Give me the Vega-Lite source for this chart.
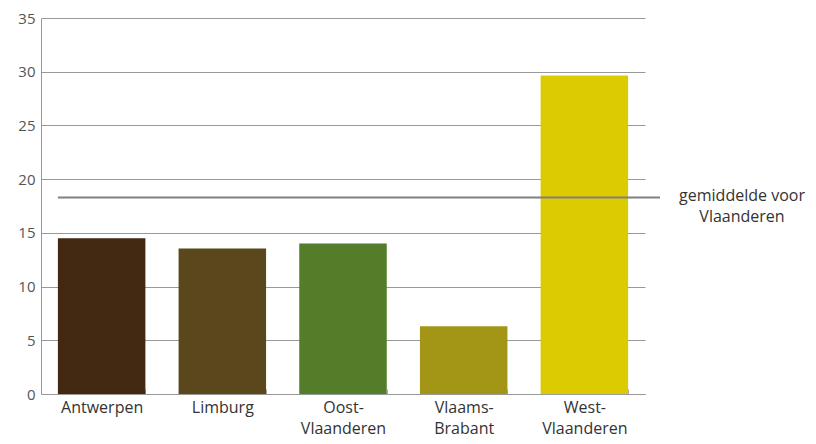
{
  "$schema": "https://vega.github.io/schema/vega-lite/v6.json",
  "width": 604,
  "height": 376,
  "autosize": {"type": "none"},
  "padding": {"left": 41, "top": 18, "right": 171, "bottom": 50},
  "background": "white",
  "config": {"view": {"stroke": null}, "font": "Open Sans"},
  "datasets": {
    "bars": [
      {"provincie": "Antwerpen", "waarde": 14.5},
      {"provincie": "Limburg", "waarde": 13.55},
      {"provincie": "Oost-Vlaanderen", "waarde": 14.0},
      {"provincie": "Vlaams-Brabant", "waarde": 6.3},
      {"provincie": "West-Vlaanderen", "waarde": 29.65}
    ],
    "avg": [
      {"start": "Antwerpen", "gemiddelde": 18.3, "label": "gemiddelde voor|Vlaanderen"}
    ]
  },
  "layer": [
    {
      "data": {"name": "bars"},
      "mark": {"type": "bar"},
      "encoding": {
        "x": {
          "field": "provincie",
          "type": "nominal",
          "sort": null,
          "scale": {"paddingInner": 0.275, "paddingOuter": 0.14},
          "axis": {
            "title": null,
            "labelAngle": 0,
            "labelFontSize": 16,
            "labelColor": "#333333",
            "labelPadding": 10,
            "labelLineHeight": 21,
            "labelBaseline": "top",
            "labelExpr": "indexof(datum.label,'-') > 0 ? [slice(datum.label, 0, indexof(datum.label,'-')+1), slice(datum.label, indexof(datum.label,'-')+1)] : datum.label",
            "domainColor": "#999999",
            "domainWidth": 1,
            "ticks": true,
            "tickBand": "extent",
            "tickColor": "#aaaaaa",
            "tickSize": -5,
            "grid": false
          }
        },
        "y": {
          "field": "waarde",
          "type": "quantitative",
          "scale": {"domain": [0, 35]},
          "axis": {
            "title": null,
            "values": [0, 5, 10, 15, 20, 25, 30, 35],
            "labelFontSize": 15,
            "labelColor": "#555555",
            "labelPadding": 6,
            "ticks": false,
            "domainColor": "#999999",
            "gridColor": "#999999",
            "gridWidth": 1
          }
        },
        "color": {
          "field": "provincie",
          "type": "nominal",
          "sort": null,
          "scale": {
            "domain": ["Antwerpen", "Limburg", "Oost-Vlaanderen", "Vlaams-Brabant", "West-Vlaanderen"],
            "range": ["#432812", "#5b471c", "#537d29", "#a39616", "#dccb00"]
          },
          "legend": null
        }
      }
    },
    {
      "data": {"name": "avg"},
      "mark": {"type": "rule", "color": "#808080", "strokeWidth": 2, "x2Offset": 15},
      "encoding": {
        "x": {"field": "start", "type": "nominal", "bandPosition": 0},
        "x2": {"value": "width"},
        "y": {"field": "gemiddelde", "type": "quantitative"}
      }
    },
    {
      "data": {"name": "avg"},
      "mark": {
        "type": "text",
        "align": "center",
        "baseline": "alphabetic",
        "dx": 97,
        "dy": 4,
        "fontSize": 16,
        "lineHeight": 21,
        "color": "#333333",
        "lineBreak": "|"
      },
      "encoding": {
        "x": {"value": "width"},
        "y": {"field": "gemiddelde", "type": "quantitative"},
        "text": {"field": "label"}
      }
    }
  ]
}
